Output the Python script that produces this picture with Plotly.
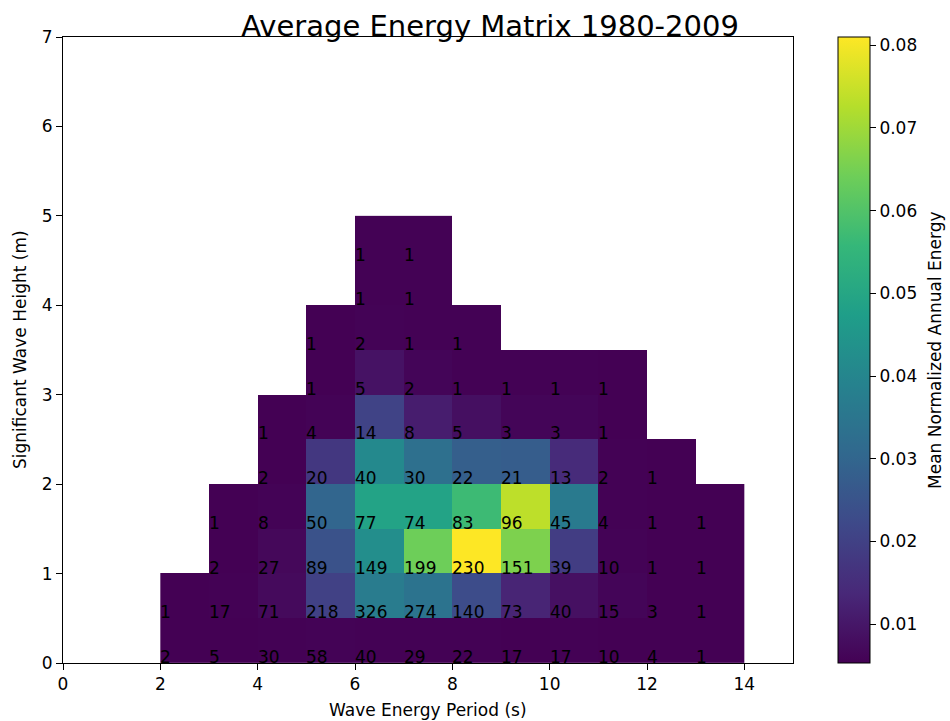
import plotly.graph_objects as go

# Bin edges: wave energy period (s) and significant wave height (m)
period_edges = [2, 3, 4, 5, 6, 7, 8, 9, 10, 11, 12, 13, 14]
height_edges = [0.0, 0.5, 1.0, 1.5, 2.0, 2.5, 3.0, 3.5, 4.0, 4.5, 5.0]

N = None
# Occurrence counts per bin (rows: height bins bottom->top, cols: period bins 2..13)
counts = [
    [2, 5, 30, 58, 40, 29, 22, 17, 17, 10, 4, 1],
    [1, 17, 71, 218, 326, 274, 140, 73, 40, 15, 3, 1],
    [N, 2, 27, 89, 149, 199, 230, 151, 39, 10, 1, 1],
    [N, 1, 8, 50, 77, 74, 83, 96, 45, 4, 1, 1],
    [N, N, 2, 20, 40, 30, 22, 21, 13, 2, 1, N],
    [N, N, 1, 4, 14, 8, 5, 3, 3, 1, N, N],
    [N, N, N, 1, 5, 2, 1, 1, 1, 1, N, N],
    [N, N, N, 1, 2, 1, 1, N, N, N, N, N],
    [N, N, N, N, 1, 1, N, N, N, N, N, N],
    [N, N, N, N, 1, 1, N, N, N, N, N, N],
]

# Mean normalized annual energy per bin
energy = [
    [0.0054, 0.0054, 0.0056, 0.0058, 0.0056, 0.0055, 0.0055, 0.0054, 0.0055, 0.0054, 0.0054, 0.0053],
    [0.0053, 0.0055, 0.0072, 0.0200, 0.0370, 0.0340, 0.0230, 0.0130, 0.0085, 0.0062, 0.0054, 0.0053],
    [N, 0.0054, 0.0068, 0.0245, 0.0425, 0.0640, 0.0810, 0.0660, 0.0190, 0.0058, 0.0053, 0.0053],
    [N, 0.0053, 0.0057, 0.0300, 0.0490, 0.0490, 0.0570, 0.0735, 0.0365, 0.0055, 0.0053, 0.0053],
    [N, N, 0.0054, 0.0175, 0.0410, 0.0330, 0.0280, 0.0275, 0.0145, 0.0055, 0.0053, N],
    [N, N, 0.0054, 0.0058, 0.0205, 0.0114, 0.0083, 0.0062, 0.0062, 0.0054, N, N],
    [N, N, N, 0.0054, 0.0090, 0.0062, 0.0055, 0.0055, 0.0055, 0.0054, N, N],
    [N, N, N, 0.0054, 0.0058, 0.0055, 0.0055, N, N, N, N, N],
    [N, N, N, N, 0.0055, 0.0055, N, N, N, N, N, N],
    [N, N, N, N, 0.0055, 0.0055, N, N, N, N, N, N],
]

cbar_ticks = [0.01, 0.02, 0.03, 0.04, 0.05, 0.06, 0.07, 0.08]

FONT = "DejaVu Sans"
FS = 17
TXT = dict(family=FONT, size=FS, color="black")

fig = go.Figure()
fig.add_trace(go.Heatmap(
    x=period_edges,
    y=height_edges,
    z=energy,
    colorscale="Viridis",
    zmin=0.0053,
    zmax=0.081,
    hoverongaps=False,
    colorbar=dict(
        x=838 / 950, xanchor="left", xref="container", xpad=0,
        y=0.5, yanchor="middle", yref="paper", ypad=0,
        len=1.0, lenmode="fraction",
        thickness=32, thicknessmode="pixels",
        outlinecolor="black", outlinewidth=1,
        tickvals=cbar_ticks, tickformat=".2f",
        ticks="outside", ticklen=6, tickcolor="black",
        tickfont=TXT,
    ),
))

# Count labels at the lower-left corner of each bin
for i, row in enumerate(counts):
    for j, c in enumerate(row):
        if c is None:
            continue
        fig.add_annotation(
            x=period_edges[j], y=height_edges[i], text=str(c),
            xanchor="left", yanchor="bottom", showarrow=False,
            xshift=-2, yshift=-6, font=TXT,
        )

# Axis and colorbar titles
fig.add_annotation(text="Wave Energy Period (s)", xref="paper", yref="paper",
                   x=0.5, y=-(710 - 663) / 626, xanchor="center", yanchor="middle",
                   showarrow=False, font=TXT)
fig.add_annotation(text="Significant Wave Height (m)", xref="paper", yref="paper",
                   x=(20 - 63) / 730, y=0.5, xanchor="center", yanchor="middle",
                   textangle=-90, showarrow=False, font=TXT)
fig.add_annotation(text="Mean Normalized Annual Energy", xref="paper", yref="paper",
                   x=(935 - 63) / 730, y=0.5, xanchor="center", yanchor="middle",
                   textangle=-90, showarrow=False, font=TXT)

axis_common = dict(
    showline=True, mirror=True, linecolor="black", linewidth=1,
    ticks="outside", ticklen=6, tickcolor="black",
    showgrid=False, zeroline=False, automargin=False,
    tickfont=TXT,
)

fig.update_layout(
    width=950, height=721,
    margin=dict(l=63, r=157, t=37, b=58),
    paper_bgcolor="white", plot_bgcolor="white",
    title=dict(text="Average Energy Matrix 1980-2009",
               x=0.585, xref="paper", xanchor="center",
               y=1 - 26 / 721, yref="container", yanchor="middle",
               font=dict(family=FONT, size=29, color="black")),
    xaxis=dict(range=[0, 15], tickvals=[0, 2, 4, 6, 8, 10, 12, 14], **axis_common),
    yaxis=dict(range=[0, 7], tickvals=[0, 1, 2, 3, 4, 5, 6, 7], **axis_common),
)

fig.write_html("out.html")
